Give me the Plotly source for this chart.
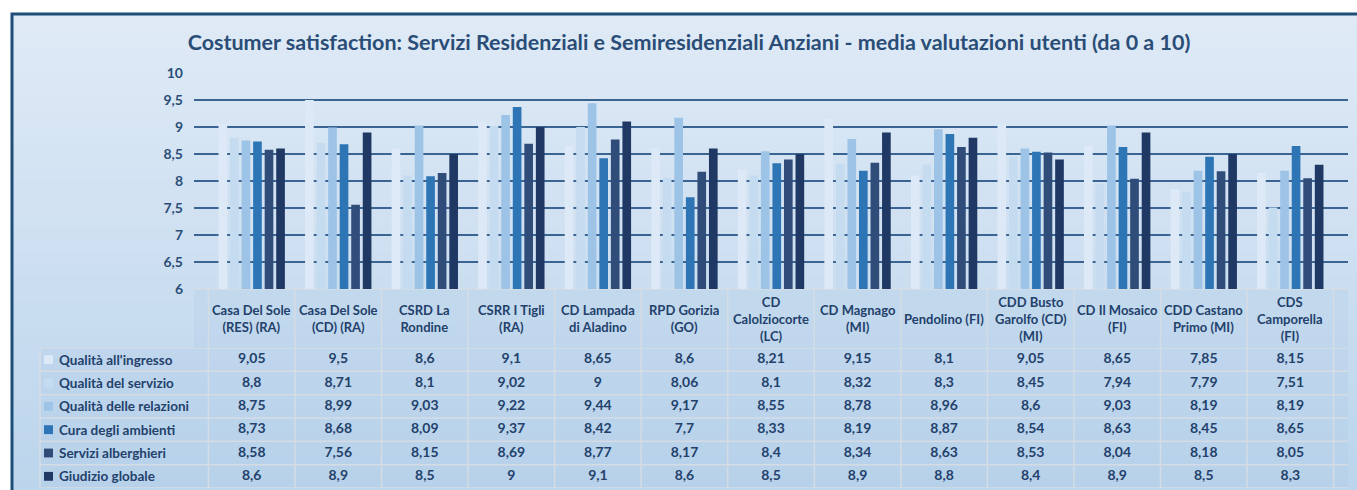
import plotly.graph_objects as go

W, H = 1357, 490

categories = [
    "Casa Del Sole<br>(RES) (RA)", "Casa Del Sole<br>(CD) (RA)", "CSRD La<br>Rondine",
    "CSRR I Tigli<br>(RA)", "CD Lampada<br>di Aladino", "RPD Gorizia<br>(GO)",
    "CD<br>Calolziocorte<br>(LC)", "CD Magnago<br>(MI)", "Pendolino (FI)",
    "CDD Busto<br>Garolfo (CD)<br>(MI)", "CD Il Mosaico<br>(FI)", "CDD Castano<br>Primo (MI)",
    "CDS<br>Camporella<br>(FI)",
]

series_names = [
    "Qualità all'ingresso", "Qualità del servizio", "Qualità delle relazioni",
    "Cura degli ambienti", "Servizi alberghieri", "Giudizio globale",
]

qualita_ingresso = [9.05, 9.5, 8.6, 9.1, 8.65, 8.6, 8.21, 9.15, 8.1, 9.05, 8.65, 7.85, 8.15]
qualita_servizio = [8.8, 8.71, 8.1, 9.02, 9, 8.06, 8.1, 8.32, 8.3, 8.45, 7.94, 7.79, 7.51]
qualita_relazioni = [8.75, 8.99, 9.03, 9.22, 9.44, 9.17, 8.55, 8.78, 8.96, 8.6, 9.03, 8.19, 8.19]
cura_ambienti = [8.73, 8.68, 8.09, 9.37, 8.42, 7.7, 8.33, 8.19, 8.87, 8.54, 8.63, 8.45, 8.65]
servizi_alberghieri = [8.58, 7.56, 8.15, 8.69, 8.77, 8.17, 8.4, 8.34, 8.63, 8.53, 8.04, 8.18, 8.05]
giudizio_globale = [8.6, 8.9, 8.5, 9, 9.1, 8.6, 8.5, 8.9, 8.8, 8.4, 8.9, 8.5, 8.3]

series_values = [qualita_ingresso, qualita_servizio, qualita_relazioni,
                 cura_ambienti, servizi_alberghieri, giudizio_globale]

colors = ["#dde9f6", "#c4dbf0", "#9dc3e6", "#2e75b6", "#304d7a", "#1f3864"]

title_text = ("Costumer satisfaction: Servizi Residenziali e Semiresidenziali Anziani"
              " - media valutazioni utenti (da 0 a 10)")

FONT = "Lato"
TEXT_COLOR = "#23416b"
LINE_COL = "#d5dce4"


def px_x(p):
    return p / W


def px_y(p):
    return 1 - p / H


plot_left, plot_right, plot_top, plot_bottom = 194, 1348, 73, 289
table_left = 40
header_bottom = 348
table_bottom = 488
nrow = len(series_names)
ncol = len(categories)

fig = go.Figure()

# bars
for name, vals, col in zip(series_names, series_values, colors):
    fig.add_trace(go.Bar(
        x=categories, y=vals, name=name, marker=dict(color=col, line=dict(width=0)),
        xaxis="x", yaxis="y", showlegend=False, hoverinfo="skip",
    ))


def fmt(v):
    return (f"{v:g}").replace(".", ",")


# data table values on a categorical y axis sharing the bar x axis
tx, ty, tt = [], [], []
for name, vals in zip(series_names, series_values):
    for cat, v in zip(categories, vals):
        tx.append(cat)
        ty.append(name)
        tt.append("<b>" + fmt(v) + "</b>")
fig.add_trace(go.Scatter(
    x=tx, y=ty, text=tt, mode="text", textposition="middle center",
    textfont=dict(size=14, family=FONT, color=TEXT_COLOR),
    xaxis="x", yaxis="y2", showlegend=False, hoverinfo="skip", cliponaxis=False,
))

annotations = []
for cat in categories:
    annotations.append(dict(
        x=cat, xref="x", y=px_y((plot_bottom + header_bottom) / 2), yref="paper",
        text="<b>" + cat + "</b>", showarrow=False, yanchor="middle", xanchor="center",
        font=dict(size=13, family=FONT, color=TEXT_COLOR),
    ))
for name in series_names:
    annotations.append(dict(
        x=px_x(table_left + 17), xref="paper", y=name, yref="y2",
        text="<b>" + name + "</b>", showarrow=False, xanchor="left", yanchor="middle",
        font=dict(size=13.5, family=FONT, color=TEXT_COLOR),
    ))

shapes = []
# background gradient
top_c = (0xdf, 0xea, 0xf6)
bot_c = (0xbc, 0xd5, 0xec)
N = 40
y0 = 14
for i in range(N):
    t = i / (N - 1)
    c = tuple(int(round(top_c[k] + (bot_c[k] - top_c[k]) * t)) for k in range(3))
    ya = y0 + (H - y0) * i / N
    yb = min(H, y0 + (H - y0) * (i + 1) / N + 1)
    shapes.append(dict(type="rect", xref="paper", yref="paper", layer="below",
                       x0=px_x(12), x1=1, y0=px_y(yb), y1=px_y(ya),
                       fillcolor="rgb(%d,%d,%d)" % c, line=dict(width=0)))

# table cell tint
shapes.append(dict(type="rect", xref="paper", yref="paper", layer="below",
                   x0=px_x(plot_left), x1=px_x(plot_right),
                   y0=px_y(table_bottom), y1=px_y(plot_bottom),
                   fillcolor="rgba(160,195,230,0.18)", line=dict(width=0)))
shapes.append(dict(type="rect", xref="paper", yref="paper", layer="below",
                   x0=px_x(table_left), x1=px_x(plot_left),
                   y0=px_y(table_bottom), y1=px_y(header_bottom),
                   fillcolor="rgba(160,195,230,0.18)", line=dict(width=0)))

# table grid
for j in range(ncol + 1):
    shapes.append(dict(type="line", xref="x", yref="paper", layer="below",
                       x0=j - 0.5, x1=j - 0.5, y0=px_y(table_bottom), y1=px_y(plot_bottom),
                       line=dict(color=LINE_COL, width=1.5)))
shapes.append(dict(type="line", xref="paper", yref="paper", layer="below",
                   x0=px_x(table_left), x1=px_x(table_left),
                   y0=px_y(table_bottom), y1=px_y(header_bottom),
                   line=dict(color=LINE_COL, width=1.5)))
shapes.append(dict(type="line", xref="paper", yref="paper", layer="below",
                   x0=px_x(plot_left), x1=px_x(plot_right),
                   y0=px_y(plot_bottom), y1=px_y(plot_bottom),
                   line=dict(color=LINE_COL, width=1.5)))
for i in range(nrow + 1):
    shapes.append(dict(type="line", xref="paper", yref="y2", layer="below",
                       x0=px_x(table_left), x1=px_x(plot_right),
                       y0=i - 0.5, y1=i - 0.5,
                       line=dict(color=LINE_COL, width=1.5)))

# legend keys
for i, col in enumerate(colors):
    shapes.append(dict(type="rect", xref="paper", yref="y2", layer="above",
                       x0=px_x(table_left + 4), x1=px_x(table_left + 13),
                       y0=i - 0.19, y1=i + 0.19,
                       fillcolor=col, line=dict(width=0)))

# frame
shapes.append(dict(type="rect", xref="paper", yref="paper", layer="above",
                   x0=px_x(12), x1=1.005, y0=-0.01, y1=px_y(14),
                   fillcolor="rgba(0,0,0,0)", line=dict(color="#1f4e79", width=3)))

fig.update_layout(
    width=W, height=H, autosize=False,
    margin=dict(l=0, r=0, t=0, b=0, pad=0, autoexpand=False),
    paper_bgcolor="white", plot_bgcolor="rgba(0,0,0,0)",
    separators=",.",
    barmode="group", bargap=0.2, bargroupgap=0.25,
    shapes=shapes, annotations=annotations,
    title=dict(text="<b>" + title_text + "</b>", x=px_x(689), xanchor="center",
               y=px_y(42), yanchor="middle", automargin=False,
               font=dict(size=21.5, family=FONT, color="#2a4d77")),
    xaxis=dict(domain=[px_x(plot_left), px_x(plot_right)], showticklabels=False,
               showgrid=False, zeroline=False, showline=False, ticks="", automargin=False,
               categoryorder="array", categoryarray=categories, fixedrange=True),
    yaxis=dict(domain=[px_y(plot_bottom), px_y(plot_top)], range=[6, 10], dtick=0.5,
               tick0=6, showgrid=True, gridcolor="#3a6592", gridwidth=2, automargin=False,
               zeroline=False, showline=False, ticks="", ticklabelstandoff=10,
               tickfont=dict(size=14, family=FONT, color="#2a4d77", weight="bold"),
               fixedrange=True),
    yaxis2=dict(domain=[px_y(table_bottom), px_y(header_bottom)], anchor="x",
                type="category", categoryorder="array", categoryarray=series_names,
                range=[nrow - 0.5, -0.5], showticklabels=False, showgrid=False,
                automargin=False,
                zeroline=False, showline=False, ticks="", fixedrange=True),
)

fig.write_html("out.html", config={"displayModeBar": False, "responsive": False},
               post_script="document.body.style.margin='0';document.body.style.overflow='hidden';")
